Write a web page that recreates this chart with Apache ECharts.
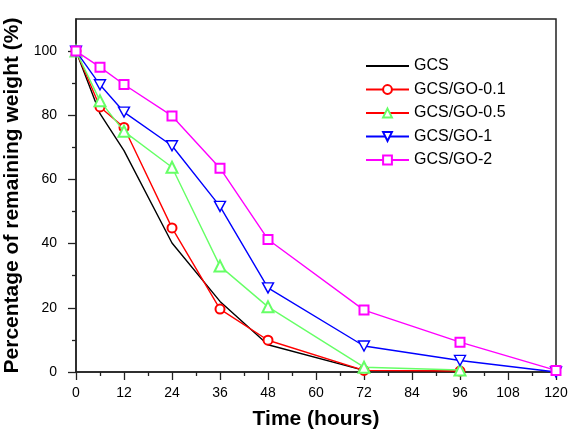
<!DOCTYPE html>
<html>
<head>
<meta charset="utf-8">
<script src="https://cdn.jsdelivr.net/npm/echarts@6/dist/echarts.min.js"></script>
<style>html,body{margin:0;padding:0;background:#fff}#c{width:570px;height:432px}</style>
</head>
<body>
<div id="c"></div>
<script>
var times = [0, 6, 12, 24, 36, 48, 72, 96, 120];
var seriesNames = ['GCS', 'GCS/GO-0.1', 'GCS/GO-0.5', 'GCS/GO-1', 'GCS/GO-2'];
var gcs     = [100, 80.5, 69, 40.2, 22, 8.5, 0.5, 0.2, null];
var go01    = [100, 82.6, 76.2, 44.9, 19.6, 9.9, 0.5, 0.3, null];
var go05    = [100, 84.5, 75, 63.8, 33, 20.3, 1.5, 0.6, null];
var go1     = [100, 89.5, 81, 70.5, 51.6, 26.2, 8.1, 3.6, 0];
var go2     = [100, 95, 89.6, 79.8, 63.5, 41.3, 19.3, 9.3, 0.5];
var xTicks  = [0, 12, 24, 36, 48, 60, 72, 84, 96, 108, 120];
var yTicks  = [0, 20, 40, 60, 80, 100];
var yMinor  = [10, 30, 50, 70, 90];

var colors  = ['#000000', '#ff0000', '#66ff66', '#0000ff', '#ff00ff'];
var symbols = ['none', 'emptyCircle', 'emptyTriangle', 'path://M0,0 L10,0 L5,9 Z', 'emptyRect'];
var values  = [gcs, go01, go05, go1, go2];

function pairs(v) {
  var out = [];
  for (var i = 0; i < times.length; i++) if (v[i] !== null) out.push([times[i], v[i]]);
  return out;
}

var FONT = 'Liberation Sans, Arial, sans-serif';
var series = seriesNames.map(function (n, i) {
  return {
    name: n, type: 'line', data: pairs(values[i]),
    symbol: symbols[i], symbolSize: i === 3 ? [11, 10] : (i === 2 ? 11 : 9),
    showSymbol: i !== 0,
    lineStyle: { color: colors[i], width: 1.4 },
    itemStyle: { color: i === 3 ? '#fff' : colors[i], borderColor: colors[i], borderWidth: 1.4 },
    emphasis: { disabled: true },
    animation: false, z: 3 + i
  };
});

var chart = echarts.init(document.getElementById('c'), null, { renderer: 'canvas' });
chart.setOption({
  backgroundColor: '#fff',
  animation: false,
  grid: { left: 76, right: 14, top: 19, bottom: 60, show: true, borderColor: '#222', borderWidth: 1.5,
          backgroundColor: 'transparent', containLabel: false, outerBoundsMode: 'none' },
  legend: {
    orient: 'vertical', left: 360, top: 53,
    itemWidth: 43, itemHeight: 11, itemGap: 7.5,
    textStyle: { fontFamily: FONT, fontSize: 16, color: '#000' },
    data: seriesNames.map(function (n, i) {
      if (i === 0) return { name: n, itemStyle: { color: 'transparent', borderColor: 'transparent', opacity: 0 } };
      if (i === 2) return { name: n, lineStyle: { color: '#ff0000' } };
      return { name: n };
    })
  },
  xAxis: {
    type: 'value', min: 0, max: 120, interval: 12,
    name: 'Time (hours)', nameLocation: 'middle', nameGap: 37,
    nameTextStyle: { fontFamily: FONT, fontSize: 21, fontWeight: 'bold', color: '#000' },
    axisLine: { lineStyle: { color: '#222', width: 1.5 } },
    axisTick: { length: 8, lineStyle: { color: '#222', width: 1.3 } },
    minorTick: { show: true, splitNumber: 2, length: 4, lineStyle: { color: '#222', width: 1.3 } },
    axisLabel: { fontFamily: FONT, fontSize: 14, color: '#000', margin: 14 },
    splitLine: { show: false }
  },
  yAxis: [{
    type: 'value', min: 0, max: 110, interval: 20,
    name: 'Percentage of remaining weight (%)', nameLocation: 'middle', nameGap: 46,
    nameTextStyle: { fontFamily: FONT, fontSize: 21, fontWeight: 'bold', color: '#000' },
    axisLine: { show: true, lineStyle: { color: '#222', width: 1.5 } },
    axisTick: { length: 8, customValues: yTicks, lineStyle: { color: '#222', width: 1.3 } },
    axisLabel: { fontFamily: FONT, fontSize: 14, color: '#000', margin: 19, customValues: yTicks },
    splitLine: { show: false }
  }, {
    type: 'value', min: 0, max: 110, position: 'left',
    axisLine: { show: false },
    axisTick: { show: true, length: 4, customValues: yMinor, lineStyle: { color: '#222', width: 1.3 } },
    axisLabel: { show: false },
    splitLine: { show: false }
  }],
  series: series
});
</script>
</body>
</html>
